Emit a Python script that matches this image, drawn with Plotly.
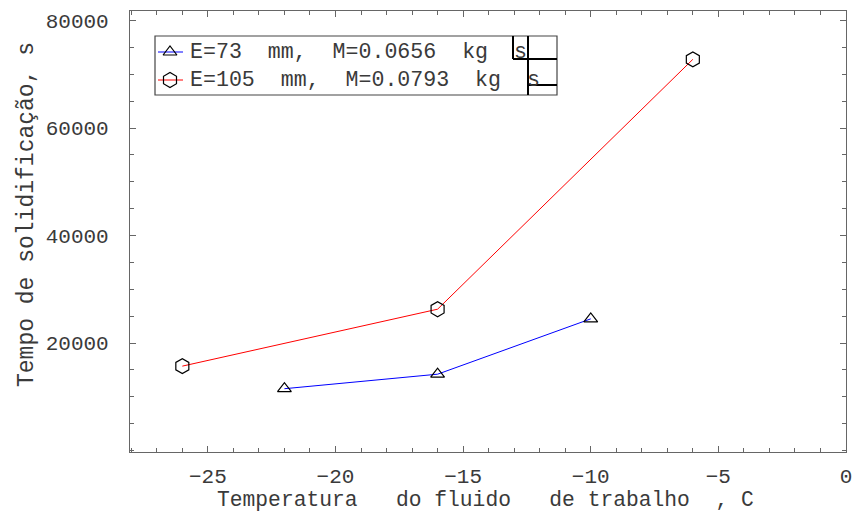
import plotly.graph_objects as go

# ---- data ----
temp_73 = [-22, -16, -10]
time_73 = [11500, 14200, 24500]
temp_105 = [-26, -16, -6]
time_105 = [15700, 26300, 72800]
name_73 = "E=73  mm,  M=0.0656  kg  s"
name_105 = "E=105  mm,  M=0.0793  kg  s"
x_tickvals = [-25, -20, -15, -10, -5, 0]
x_ticktext = ["\u221225", "\u221220", "\u221215", "\u221210", "\u22125", "0"]
y_tickvals = [20000, 40000, 60000, 80000]
y_ticktext = ["20000", "40000", "60000", "80000"]
x_title = "Temperatura   do fluido   de trabalho  , C"
y_title = "Tempo de solidifica\u00e7\u00e3o, s"

W, H = 853, 515
L, R, T, B = 130, 846, 11, 452  # plot area in pixels

MONO = "Liberation Mono, Courier New, monospace"
TXT = "#3a3a3a"
AX = "#666666"

fig = go.Figure()
fig.add_trace(go.Scatter(x=temp_73, y=time_73, mode="lines+markers",
                         line=dict(color="#0000ff", width=1),
                         marker=dict(symbol="triangle-up-open", size=12, color="black",
                                     line=dict(width=1.2, color="black")),
                         showlegend=False))
fig.add_trace(go.Scatter(x=temp_105, y=time_105, mode="lines+markers",
                         line=dict(color="#ff0000", width=1),
                         marker=dict(symbol="hexagon-open", size=15, color="black",
                                     line=dict(width=1.2, color="black")),
                         showlegend=False))

# ---- manual legend on pixel overlay axes ----
leg_rows = [(52, "#0000ff", "triangle-up-open", 12, name_73),
            (80, "#ff0000", "hexagon-open", 15, name_105)]
for yy, col, sym, sz, label in leg_rows:
    fig.add_trace(go.Scatter(x=[158, 183], y=[yy, yy], mode="lines", xaxis="x2", yaxis="y2",
                             line=dict(color=col, width=1), showlegend=False, hoverinfo="skip"))
    fig.add_trace(go.Scatter(x=[170], y=[yy], mode="markers", xaxis="x2", yaxis="y2",
                             marker=dict(symbol=sym, size=sz, color="black",
                                         line=dict(width=1.2, color="black")),
                             showlegend=False, hoverinfo="skip"))
    fig.add_annotation(x=188, y=yy, xref="x2", yref="y2", text=label, showarrow=False,
                       xanchor="left", yanchor="middle",
                       font=dict(family=MONO, size=21.6, color=TXT))

shape_lines = [
    dict(type="rect", x0=155, x1=557, y0=36, y1=95, line=dict(color="#444", width=1.2)),
    dict(type="line", x0=513, x1=513, y0=36, y1=59, line=dict(color="black", width=2)),
    dict(type="line", x0=528, x1=528, y0=36, y1=95, line=dict(color="black", width=2)),
    dict(type="line", x0=513, x1=557, y0=59, y1=59, line=dict(color="black", width=2)),
    dict(type="line", x0=528, x1=557, y0=85, y1=85, line=dict(color="black", width=2)),
]
for s in shape_lines:
    fig.add_shape(xref="x2", yref="y2", **s)

def px_x(p):
    return (p - L) / (R - L)

def px_y(p):
    return (B - p) / (B - T)

# axis titles as annotations (positioned like the reference)
fig.add_annotation(x=px_x(215), y=px_y(500), xref="paper", yref="paper", text=x_title,
                   showarrow=False, xanchor="left", yanchor="middle",
                   font=dict(family=MONO, size=21.3, color=TXT))
fig.add_annotation(x=px_x(27), y=px_y(215), xref="paper", yref="paper", text=y_title,
                   showarrow=False, xanchor="center", yanchor="middle", textangle=-90,
                   font=dict(family=MONO, size=23, color=TXT))

axis_common = dict(showline=True, linecolor=AX, linewidth=1.2, mirror="allticks",
                   ticks="inside", tickcolor=AX, ticklen=6, tickwidth=1,
                   showgrid=False, zeroline=False, automargin=False,
                   tickfont=dict(family=MONO, size=21, color=TXT))

fig.update_layout(
    width=W, height=H,
    margin=dict(l=L, r=W - R, t=T, b=H - B),
    paper_bgcolor="white", plot_bgcolor="white",
    xaxis=dict(range=[-28.05, 0], tickmode="array", tickvals=x_tickvals, ticktext=x_ticktext,
               minor=dict(dtick=1, tick0=0, ticks="inside", ticklen=4, tickcolor=AX),
               ticklabelstandoff=5,
               **axis_common),
    yaxis=dict(range=[-280, 81800], tickmode="array", tickvals=y_tickvals, ticktext=y_ticktext,
               minor=dict(dtick=5000, tick0=0, ticks="inside", ticklen=4, tickcolor=AX),
               ticklabelstandoff=16,
               **axis_common),
    xaxis2=dict(range=[L, R], overlaying="x", visible=False, fixedrange=True),
    yaxis2=dict(range=[B, T], overlaying="y", visible=False, fixedrange=True),
)

fig.write_html("out.html", config={"displayModeBar": False})

# remove the default page margin so the figure sits at the window's top-left corner
with open("out.html", encoding="utf-8") as f:
    html = f.read()
html = html.replace("<head>", "<head><style>html,body{margin:0;padding:0;overflow:hidden;}</style>", 1)
with open("out.html", "w", encoding="utf-8") as f:
    f.write(html)
